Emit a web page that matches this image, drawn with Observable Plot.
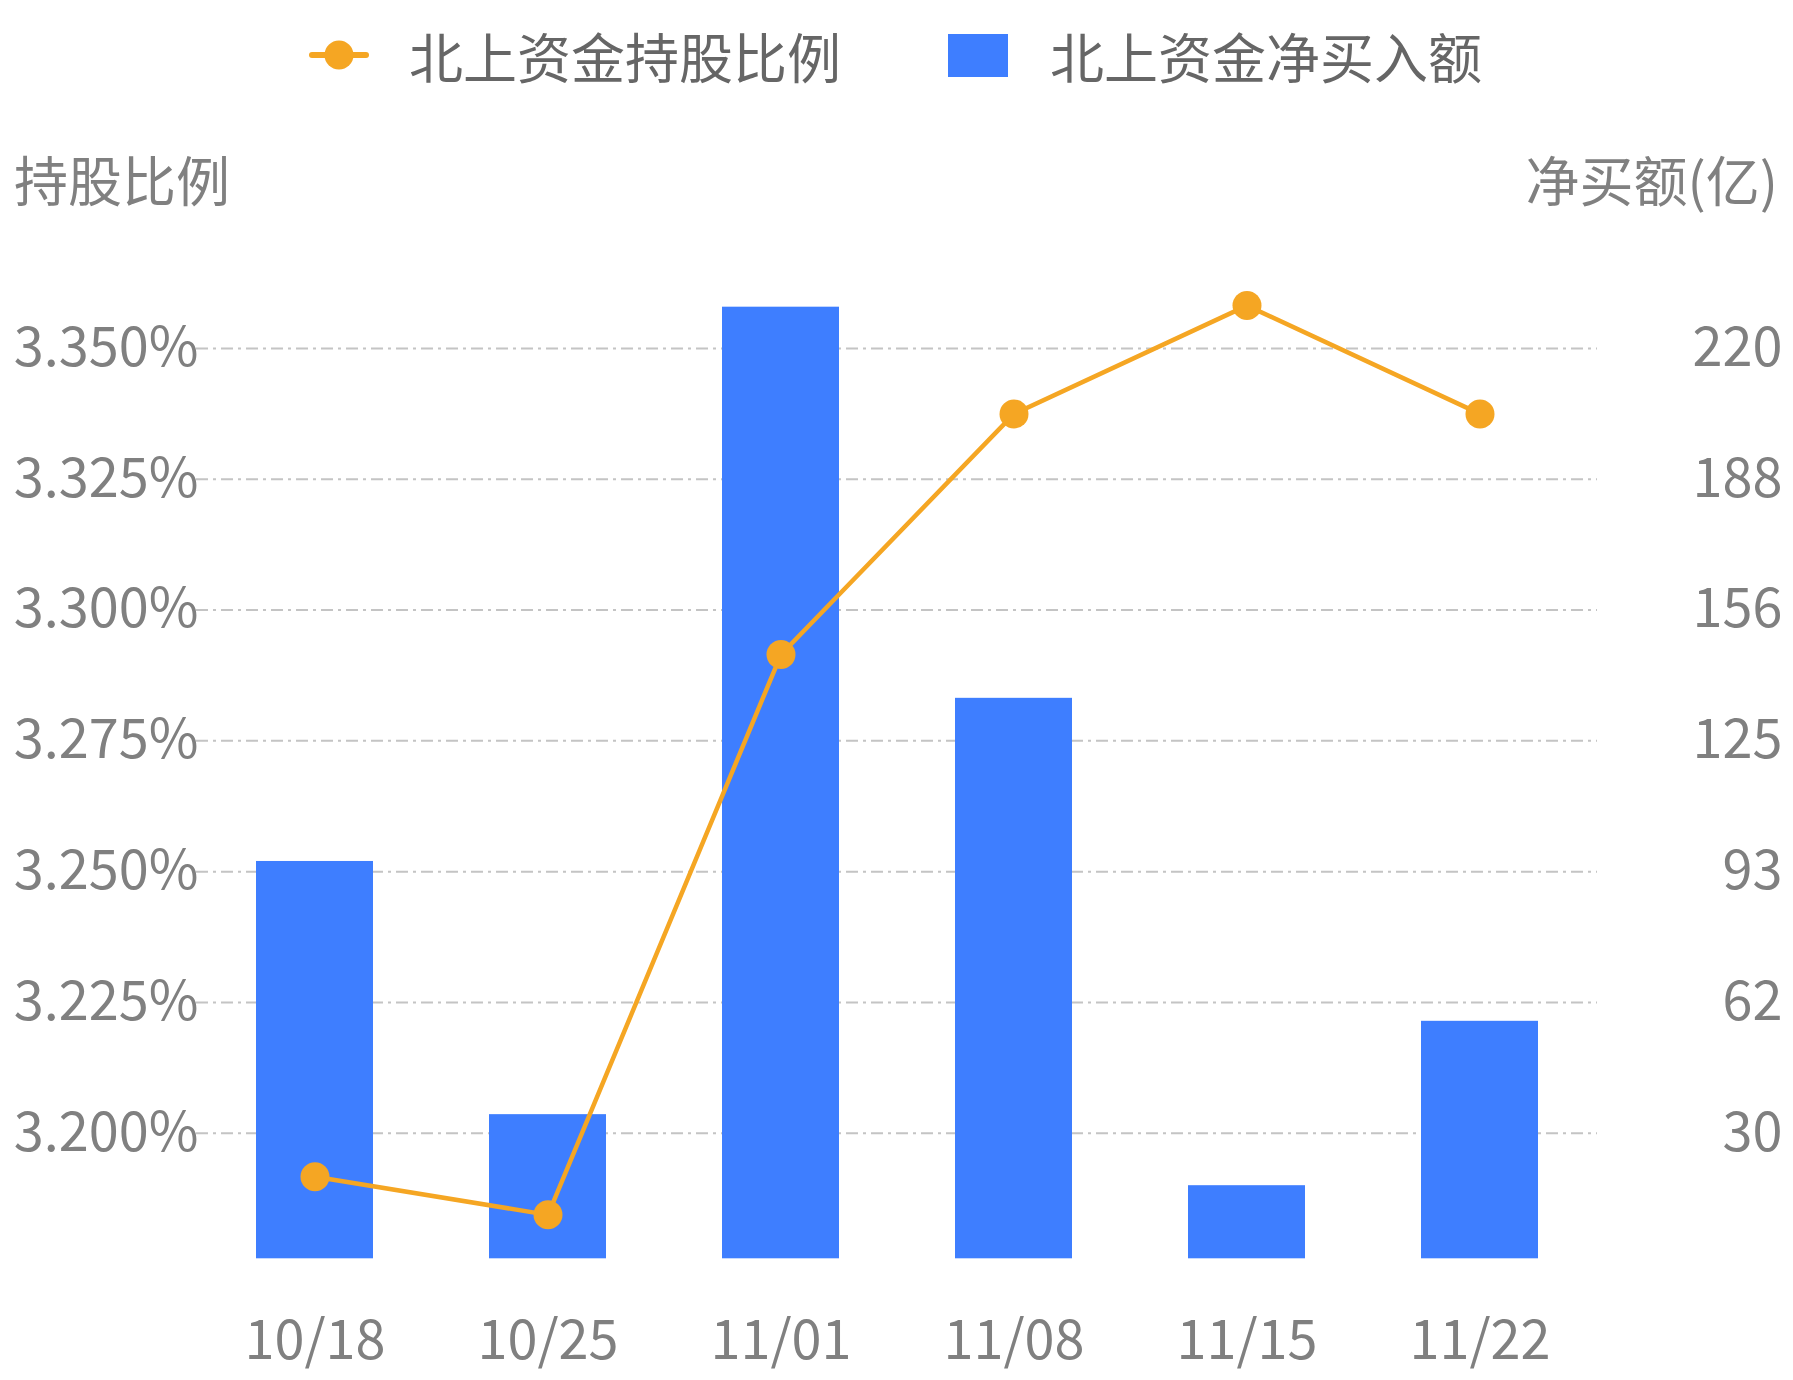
<!DOCTYPE html>
<html>
<head>
<meta charset="utf-8">
<script src="https://cdn.jsdelivr.net/npm/d3@7"></script>
<script src="https://cdn.jsdelivr.net/npm/@observablehq/plot@0.6"></script>
<style>
  html, body { margin: 0; padding: 0; background: #fff; }
  #wrap { position: relative; width: 1793px; height: 1380px; font-family: "Noto Sans CJK SC", sans-serif; }
  #overlay { position: absolute; left: 0; top: 0; pointer-events: none; }
</style>
</head>
<body>
<div id="wrap"></div>
<script>
// ---- data ----
const dates = ["10/18", "10/25", "11/01", "11/08", "11/15", "11/22"];
const holdingPct = [3.1917, 3.1844, 3.2915, 3.3375, 3.3582, 3.3375];   // 北上资金持股比例 (%)
const netBuy = [96.2, 34.9, 230.4, 135.7, 17.7, 57.5];                 // 北上资金净买入额 (亿)
const leftTicks = [3.200, 3.225, 3.250, 3.275, 3.300, 3.325, 3.350];
const rightTickLabels = ["30", "62", "93", "125", "156", "188", "220"];
const seriesNames = ["北上资金持股比例", "北上资金净买入额"];
const leftTitle = "持股比例";
const rightTitle = "净买额(亿)";

// right axis (亿) -> left axis (%) mapping
const yMin = 3.176, yMax = 3.375;
const rightStep = (220 - 30) / 6;       // value per tick interval on the right axis
const leftStep = 0.025;                 // value per tick interval on the left axis
const toLeft = r => yMin + r * leftStep / rightStep;

const rows = dates.map((d, i) => ({date: d, pct: holdingPct[i], buy: netBuy[i], buyL: toLeft(netBuy[i])}));

const W = 1793, H = 1380;
const orange = "#F5A623", blue = "#3E7EFF", grey = "#808080";

const chart = Plot.plot({
  width: W,
  height: H,
  marginTop: 217.2,
  marginBottom: 121.7,
  marginLeft: 196,
  marginRight: 196,
  style: {fontFamily: "Noto Sans CJK SC", fontSize: "54px", color: grey, background: "white", overflow: "visible"},
  x: {type: "band", domain: dates, paddingInner: 0.5, paddingOuter: 0.25, label: null},
  y: {domain: [yMin, yMax], label: null},
  marks: [
    Plot.ruleY(leftTicks, {stroke: "#c4c4c4", strokeWidth: 2, strokeDasharray: "12,5,3,5"}),
    Plot.barY(rows, {x: "date", y1: () => yMin, y2: "buyL", fill: blue}),
    Plot.line(rows, {x: "date", y: "pct", stroke: orange, strokeWidth: 4.5}),
    Plot.dot(rows, {x: "date", y: "pct", r: 14.5, fill: orange, stroke: "none"}),
    Plot.axisY(leftTicks, {anchor: "left", tickSize: 0, tickPadding: -2, fontSize: 54, fill: grey,
      tickFormat: d => d.toFixed(3) + "%", label: null}),
    Plot.axisY(leftTicks, {anchor: "right", tickSize: 0, tickPadding: 0, textAnchor: "end", dx: 185, fontSize: 54, fill: grey,
      tickFormat: d => rightTickLabels[leftTicks.indexOf(d)], label: null}),
    Plot.axisX({tickSize: 0, tickPadding: 62, fontSize: 54, fill: grey, label: null})
  ]
});

const wrap = document.getElementById("wrap");
wrap.appendChild(chart);

// ---- legend and axis titles overlay ----
const ns = "http://www.w3.org/2000/svg";
const ov = d3.select(wrap).append("svg")
  .attr("id", "overlay").attr("width", W).attr("height", 260)
  .attr("xmlns", ns)
  .style("font-family", '"Noto Sans CJK SC", sans-serif');

// legend: line series
ov.append("line").attr("x1", 312).attr("x2", 366).attr("y1", 55).attr("y2", 55)
  .attr("stroke", orange).attr("stroke-width", 6).attr("stroke-linecap", "round");
ov.append("circle").attr("cx", 339).attr("cy", 55).attr("r", 14.5).attr("fill", orange);
ov.append("text").attr("x", 409).attr("y", 55).attr("dominant-baseline", "central")
  .attr("font-size", 54).attr("fill", "#666666").text(seriesNames[0]);
// legend: bar series
ov.append("rect").attr("x", 948).attr("y", 34).attr("width", 60).attr("height", 43).attr("fill", blue);
ov.append("text").attr("x", 1050).attr("y", 55).attr("dominant-baseline", "central")
  .attr("font-size", 54).attr("fill", "#666666").text(seriesNames[1]);

// axis titles
ov.append("text").attr("x", 14).attr("y", 178).attr("dominant-baseline", "central")
  .attr("font-size", 54).attr("fill", grey).text(leftTitle);
ov.append("text").attr("x", 1778).attr("y", 178).attr("dominant-baseline", "central")
  .attr("text-anchor", "end").attr("font-size", 54).attr("fill", grey).text(rightTitle);
</script>
</body>
</html>
